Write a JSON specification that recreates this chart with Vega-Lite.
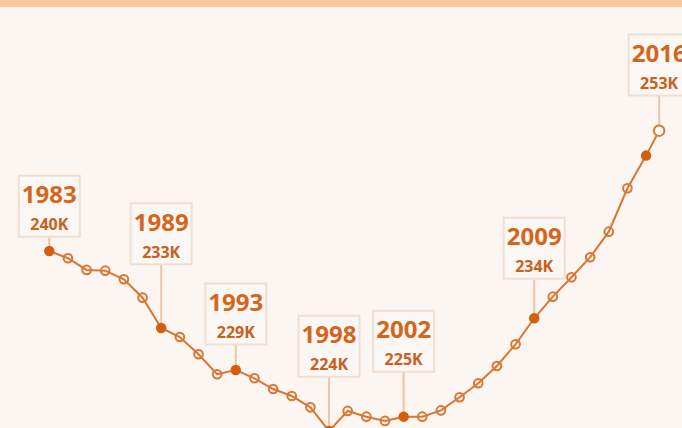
{
  "$schema": "https://vega.github.io/schema/vega-lite/v6.json",
  "width": 682,
  "height": 428,
  "autosize": {"type": "fit", "contains": "padding"},
  "padding": {"top": 7, "left": 0, "right": 0, "bottom": 0},
  "background": "#fcc89d",
  "config": {"view": {"fill": "#fbf6f2", "stroke": null}},
  "datasets": {
    "series": [
      {"t": 1983, "value": 241.43, "marker": "filled"},
      {"t": 1984, "value": 240.73, "marker": "open"},
      {"t": 1985, "value": 239.61, "marker": "open"},
      {"t": 1986, "value": 239.54, "marker": "open"},
      {"t": 1987, "value": 238.71, "marker": "open"},
      {"t": 1988, "value": 236.94, "marker": "open"},
      {"t": 1989, "value": 234.03, "marker": "filled"},
      {"t": 1990, "value": 233.16, "marker": "open"},
      {"t": 1991, "value": 231.5, "marker": "open"},
      {"t": 1992, "value": 229.58, "marker": "open"},
      {"t": 1993, "value": 229.99, "marker": "filled"},
      {"t": 1994, "value": 229.19, "marker": "open"},
      {"t": 1995, "value": 228.16, "marker": "open"},
      {"t": 1996, "value": 227.49, "marker": "open"},
      {"t": 1997, "value": 226.4, "marker": "open"},
      {"t": 1998, "value": 224.12, "marker": "filled"},
      {"t": 1999, "value": 226.05, "marker": "open"},
      {"t": 2000, "value": 225.5, "marker": "open"},
      {"t": 2001, "value": 225.09, "marker": "open"},
      {"t": 2002, "value": 225.5, "marker": "filled"},
      {"t": 2003, "value": 225.5, "marker": "open"},
      {"t": 2004, "value": 226.1, "marker": "open"},
      {"t": 2005, "value": 227.37, "marker": "open"},
      {"t": 2006, "value": 228.71, "marker": "open"},
      {"t": 2007, "value": 230.37, "marker": "open"},
      {"t": 2008, "value": 232.46, "marker": "open"},
      {"t": 2009, "value": 234.96, "marker": "filled"},
      {"t": 2010, "value": 237.04, "marker": "open"},
      {"t": 2011, "value": 238.9, "marker": "open"},
      {"t": 2012, "value": 240.83, "marker": "open"},
      {"t": 2013, "value": 243.29, "marker": "open"},
      {"t": 2014, "value": 247.46, "marker": "open"},
      {"t": 2015, "value": 250.6, "marker": "filled"},
      {"t": 2015.7, "value": 253.0, "marker": "end"}
    ],
    "labels": [
      {"year": "1983", "t": 1983, "value": 241.43, "labelAt": 245.73, "text": "240K"},
      {"year": "1989", "t": 1989, "value": 234.03, "labelAt": 243.09, "text": "233K"},
      {"year": "1993", "t": 1993, "value": 229.99, "labelAt": 235.36, "text": "229K"},
      {"year": "1998", "t": 1998, "value": 224.12, "labelAt": 232.28, "text": "224K"},
      {"year": "2002", "t": 2002, "value": 225.5, "labelAt": 232.76, "text": "225K"},
      {"year": "2009", "t": 2009, "value": 234.96, "labelAt": 241.7, "text": "234K"},
      {"year": "2016", "t": 2015.7, "value": 253.0, "labelAt": 259.32, "text": "253K"}
    ]
  },
  "encoding": {
    "x": {"field": "t", "type": "quantitative", "scale": {"domain": [1980.357, 2016.925], "nice": false, "zero": false}, "axis": null},
    "y": {"field": "value", "type": "quantitative", "scale": {"domain": [224.41, 264.89], "nice": false, "zero": false}, "axis": null}
  },
  "layer": [
    {
      "data": {"name": "labels"},
      "mark": {"type": "rule", "color": "#efc6a3", "strokeWidth": 2, "clip": true},
      "encoding": {"y2": {"field": "labelAt"}}
    },
    {
      "data": {"name": "series"},
      "mark": {"type": "line", "color": "#dc7530", "strokeWidth": 2, "clip": true},
      "encoding": {}
    },
    {
      "data": {"name": "series"},
      "transform": [{"filter": "datum.marker == 'open'"}],
      "mark": {"type": "point", "shape": "circle", "filled": false, "stroke": "#dc7530", "strokeWidth": 2, "size": 75, "opacity": 1, "clip": true},
      "encoding": {}
    },
    {
      "data": {"name": "series"},
      "transform": [{"filter": "datum.marker == 'filled'"}],
      "mark": {"type": "point", "shape": "circle", "filled": true, "fill": "#d35f0e", "size": 110, "opacity": 1, "clip": true},
      "encoding": {}
    },
    {
      "data": {"name": "series"},
      "transform": [{"filter": "datum.marker == 'end'"}],
      "mark": {"type": "point", "shape": "circle", "filled": true, "fill": "#ffffff", "stroke": "#dc7530", "strokeWidth": 2, "size": 110, "opacity": 1, "clip": true},
      "encoding": {}
    },
    {
      "data": {"name": "labels"},
      "mark": {"type": "point", "shape": "square", "filled": true, "fill": "#fbf7f4", "stroke": "#f2dfd0", "strokeWidth": 2, "size": 3721, "opacity": 1, "clip": true},
      "encoding": {"y": {"field": "labelAt", "type": "quantitative"}}
    },
    {
      "data": {"name": "labels"},
      "mark": {"type": "text", "font": "Open Sans", "fontWeight": "bold", "fontSize": 24, "color": "#d4661c", "baseline": "middle", "align": "center", "dy": -10, "clip": true},
      "encoding": {"y": {"field": "labelAt", "type": "quantitative"}, "text": {"field": "year"}}
    },
    {
      "data": {"name": "labels"},
      "mark": {"type": "text", "font": "Open Sans", "fontWeight": "bold", "fontSize": 16, "color": "#c9601c", "baseline": "middle", "align": "center", "dy": 19, "clip": true},
      "encoding": {"y": {"field": "labelAt", "type": "quantitative"}, "text": {"field": "text"}}
    }
  ]
}
